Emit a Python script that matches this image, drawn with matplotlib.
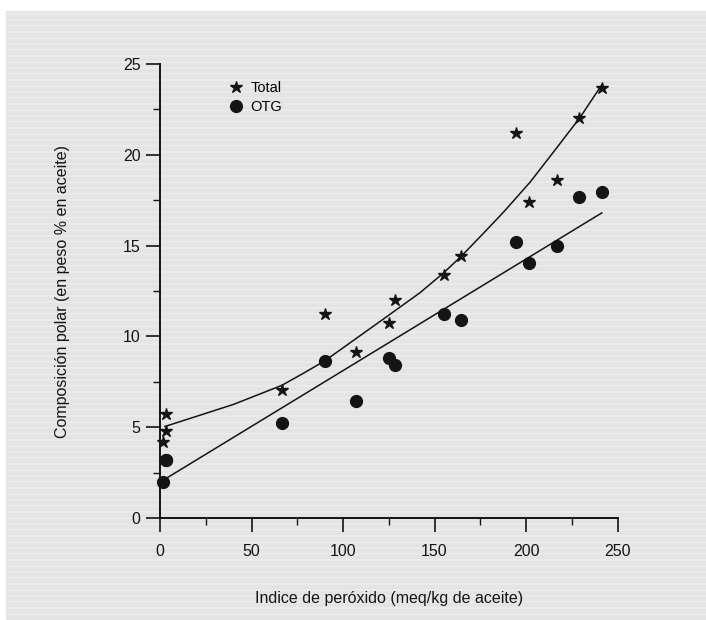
import numpy as np
import matplotlib
matplotlib.use('Agg')
from matplotlib import pyplot as plt
from matplotlib import font_manager
from matplotlib.patches import Rectangle
from matplotlib.lines import Line2D
from matplotlib.ticker import MultipleLocator

# peroxide index (meq/kg) for each sample
peroxide = [1.5, 3.3, 3.5, 66.5, 90, 107.3, 125, 128.2, 155, 164.3, 194.5, 201.8, 217, 229.1, 241.4]
total = [4.16, 5.73, 4.8, 7.03, 11.25, 9.12, 10.75, 12.0, 13.4, 14.4, 21.2, 17.4, 18.6, 22.0, 23.7]
otg = [1.97, 3.17, 3.2, 5.23, 8.66, 6.47, 8.8, 8.42, 11.23, 10.9, 15.18, 14.03, 14.96, 17.66, 17.97]

# trend curves
total_fit_x = [2.7, 20, 40, 66.5, 78, 90, 106, 122, 142, 155, 165, 176, 187.6, 202.2, 215, 229.5, 241.4]
total_fit_y = [5.04, 5.6, 6.25, 7.3, 7.95, 8.65, 9.8, 10.95, 12.4, 13.5, 14.45, 15.6, 16.83, 18.49, 20.15, 22.05, 23.85]
otg_fit_x = [2.7, 241.4]
otg_fit_y = [2.14, 16.8]

# condensed look if a narrow face is around
installed = {f.name for f in font_manager.fontManager.ttflist}
if 'Liberation Sans Narrow' in installed:
    font = ['Liberation Sans Narrow', 'DejaVu Sans']
    fsize = 12.5
else:
    font = ['Liberation Sans', 'DejaVu Sans']
    fsize = 11.5
ink = '#141414'

fig = plt.figure(figsize=(7.06, 6.2), dpi=100)
fig.patch.set_facecolor('white')

# grey scanned-looking panel behind everything
fig.add_artist(Rectangle((6 / 706, 0), 1, 1 - 11 / 620, transform=fig.transFigure,
                         facecolor='#e4e4e4', edgecolor='none', zorder=-10))
for yy in np.arange(14, 620, 6):
    fig.add_artist(Line2D([6 / 706, 1], [1 - yy / 620, 1 - yy / 620], transform=fig.transFigure,
                          color='#ececec', lw=1.2, zorder=-9))

ax = fig.add_axes([160 / 706, 1 - 518 / 620, 457.5 / 706, 454 / 620])
ax.set_facecolor('none')

ax.plot(total_fit_x, total_fit_y, color=ink, lw=1.1)
ax.plot(otg_fit_x, otg_fit_y, color=ink, lw=1.1)
ax.plot(peroxide, total, ls='none', marker='*', ms=9, color=ink, label='Total', clip_on=False)
ax.plot(peroxide, otg, ls='none', marker='o', ms=8.5, color=ink, label='OTG', clip_on=False)

ax.set_xlim(0, 250)
ax.set_ylim(0, 25)
ax.xaxis.set_major_locator(MultipleLocator(50))
ax.xaxis.set_minor_locator(MultipleLocator(25))
ax.yaxis.set_major_locator(MultipleLocator(5))
ax.yaxis.set_minor_locator(MultipleLocator(2.5))

for side in ['top', 'right']:
    ax.spines[side].set_visible(False)
for side in ['left', 'bottom']:
    ax.spines[side].set_linewidth(1.4)
    ax.spines[side].set_color(ink)

ax.tick_params(which='major', direction='out', length=10, width=1.2, colors=ink)
ax.tick_params(which='minor', direction='out', length=5, width=1.0, colors=ink)
ax.tick_params(axis='x', which='major', pad=9)
ax.tick_params(axis='y', which='major', pad=4)
for lab in ax.get_xticklabels() + ax.get_yticklabels():
    lab.set_family(font)
    lab.set_fontsize(fsize)

ax.set_xlabel('Indice de peróxido (meq/kg de aceite)', family=font, fontsize=fsize, color=ink, labelpad=23)
ax.set_ylabel('Composición polar (en peso % en aceite)', family=font, fontsize=fsize, color=ink, labelpad=38)

leg = ax.legend(loc='upper left', bbox_to_anchor=(0.137, 0.975), frameon=False,
                handlelength=1.0, handletextpad=0.5, labelspacing=0.35, borderaxespad=0,
                prop={'family': font, 'size': fsize - 1})

fig.savefig('out.png', dpi=100)
